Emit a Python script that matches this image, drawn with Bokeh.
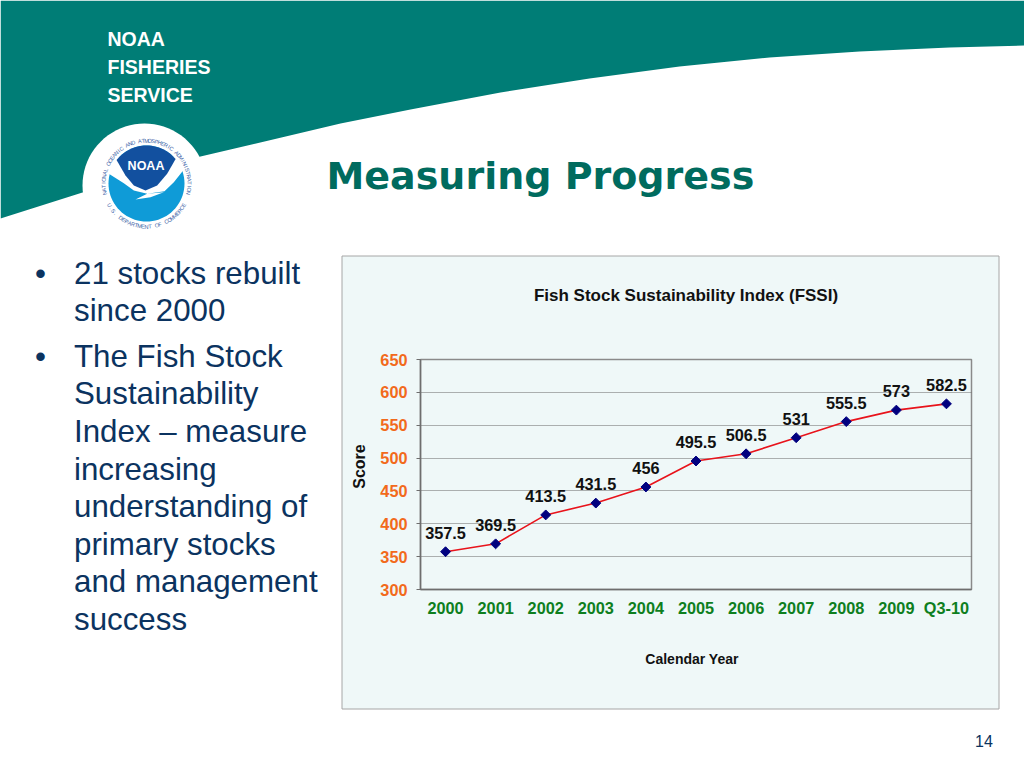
import math
from bokeh.plotting import figure
from bokeh.embed import file_html
from bokeh.resources import INLINE
from bokeh.models import Column, FixedTicker, FactorRange, ColumnDataSource, Range1d
from bokeh.core.properties import value

categories = ["2000","2001","2002","2003","2004","2005","2006","2007","2008","2009","Q3-10"]
scores = [357.5,369.5,413.5,431.5,456,495.5,506.5,531,555.5,573,582.5]
score_labels = ["357.5","369.5","413.5","431.5","456","495.5","506.5","531","555.5","573","582.5"]
y_ticks = [300,350,400,450,500,550,600,650]
bullet_lines = [("•","21 stocks rebuilt",273),("", "since 2000",310),("•","The Fish Stock",356),("", "Sustainability",393),
                ("", "Index – measure",431),("", "increasing",468.5),("", "understanding of",506),("", "primary stocks",544),
                ("", "and management",581),("", "success",618.5)]

TEAL="#007D76"; TITLE_GREEN="#006B5E"; BODY="#0B3360"; PANEL="#EFF8F8"
ORANGE="#F26A1B"; GREEN="#0E7F1E"
F="Liberation Sans"

W,H=1024,768
FL,FR,FT,FB=420,971,359,589

# slide background figure: its frame is the whole page, in pixel units
bg=figure(width=W,height=H,output_backend="svg",toolbar_location=None,x_range=Range1d(0,W),y_range=Range1d(H,0),
          x_axis_type=None,y_axis_type=None,min_border=0,frame_align=False)
bg.outline_line_color=None; bg.grid.visible=False
bg.background_fill_color="white"; bg.border_fill_color="white"

def poly(pts,color):
    bg.patch([q[0] for q in pts],[q[1] for q in pts],fill_color=color,line_color=None)
def label(x,y,t,size,color,bold=False,align="left",base="alphabetic",angle=0,font=F):
    bg.text([x],[y],text=[t],text_font=value(font),text_font_size=f"{size}px",text_font_style="bold" if bold else "normal",
            text_color=color,text_align=align,text_baseline=base,angle=angle)
def disc(c,r,col):
    poly([(c[0]+r*math.cos(i*math.pi/40),c[1]+r*math.sin(i*math.pi/40)) for i in range(80)],col)

poly([(0,0),(1024,0),(1024,45),(949,47),(859,51),(769,57),(679,66),(589,78),(500,92),(410,109),(340,123),(200,156),(82,192),(0,218)],TEAL)
disc((144,185),62,"white")
bg.quad(left=[341.5],right=[998.5],top=[255.5],bottom=[708.5],fill_color=PANEL,line_color="#A6A6A6",line_width=1)

# logo
def z(pts): return [(a/3,b/3) for a,b in pts]
C=(146,183); R=38
disc(C,R,"#0F9BD7")
poly(z([(322,490),(345,470),(527,470),(552,490),(548,510),(520,545),(492,572),(440,580),(405,597),(450,590),(490,575),(440,580),(400,570),(370,548),(325,520)]),"white")
arc=[(C[0]+R*math.cos(math.radians(a)),C[1]+R*math.sin(math.radians(a))) for a in range(-142,-36,6)]
poly(arc+z([(500,520),(470,555),(435,570),(400,555),(375,525)]),"#12509F")
label(145.5,165,"NOAA",12.5,"white",True,"center")
RING="#3A62A6"
def ring(txt,a0,a1,rad,top=True):
    n=len(txt)
    for i,ch in enumerate(txt):
        if ch==" ": continue
        a=a0+(a1-a0)*(i+.5)/n
        r=math.radians(a)
        x=C[0]+rad*math.cos(r); y=C[1]-rad*math.sin(r)
        rot=a-90 if top else a+90
        label(x,y,ch,5.5,RING,False,"center","middle",math.radians(rot))
ring("NATIONAL OCEANIC AND ATMOSPHERIC ADMINISTRATION",195,-15,43)
ring("U.S. DEPARTMENT OF COMMERCE",-152,-28,43,False)

label(107,38.5,"NOAA",19.5,"white",True)
label(107,66.5,"FISHERIES",19.5,"white",True)
label(107,94,"SERVICE",19.5,"white",True)
label(326,175,"Measuring Progress",38,TITLE_GREEN,True,font="DejaVu Sans")
for b,t,y in bullet_lines:
    if b: label(34.5,y,b,31.3,BODY)
    label(73.5,y,t,31.3,BODY)
label(983.5,740.5,"14",16,BODY,False,"center","middle")

label(685.5,294.5,"Fish Stock Sustainability Index (FSSI)",17,"#111111",True,"center","middle")
label(359,466,"Score",16,"#111111",True,"center","middle",math.pi/2)
label(691.5,658,"Calendar Year",14,"#111111",True,"center","middle")

# chart figure, transparent, laid over the slide
p=figure(width=W,height=H,output_backend="svg",toolbar_location=None,
         x_range=FactorRange(factors=categories,range_padding=0,factor_padding=0),
         y_range=Range1d(300,650),frame_align=False,
         min_border_left=FL,min_border_right=W-FR,min_border_top=FT,min_border_bottom=H-FB)
p.border_fill_color=None
p.background_fill_color=None
p.outline_line_color="#8A8A8A"; p.outline_line_width=1.5
p.styles={"position":"absolute","left":"0px","top":"0px"}

src=ColumnDataSource(dict(x=categories,y=scores,t=score_labels))
p.line("x","y",source=src,line_color="#E8131B",line_width=1.6)
p.scatter("x","y",source=src,marker="square",angle=math.pi/4,size=7,fill_color="#00007F",line_color="#00007F")
p.text("x","y",text="t",source=src,text_font=value(F),text_font_size="16.3px",text_font_style="bold",text_color="#111111",
       text_align="center",text_baseline="middle",y_offset=-19)

ax=p.yaxis[0]
ax.ticker=FixedTicker(ticks=y_ticks)
ax.axis_line_color="#6E6E6E"; ax.axis_line_width=1.5
ax.major_tick_line_color="#6E6E6E"; ax.major_tick_in=0; ax.major_tick_out=4; ax.minor_tick_line_color=None
ax.major_label_text_color=ORANGE; ax.major_label_text_font=F; ax.major_label_text_font_size="16.3px"; ax.major_label_text_font_style="bold"
ax.major_label_standoff=9
xa=p.xaxis[0]
xa.axis_line_color="#6E6E6E"; xa.axis_line_width=1.5
xa.major_tick_line_color=None; xa.minor_tick_line_color=None
xa.major_label_text_color=GREEN; xa.major_label_text_font=F; xa.major_label_text_font_size="16.3px"; xa.major_label_text_font_style="bold"
xa.major_label_standoff=3; xa.major_label_orientation="horizontal"
p.xgrid.grid_line_color=None
p.ygrid.grid_line_color="#666666"; p.ygrid.grid_line_dash="1 1"; p.ygrid.grid_line_width=1

root=Column(children=[bg,p],width=W,height=H)
open("out.html","w").write(file_html(root,INLINE))
